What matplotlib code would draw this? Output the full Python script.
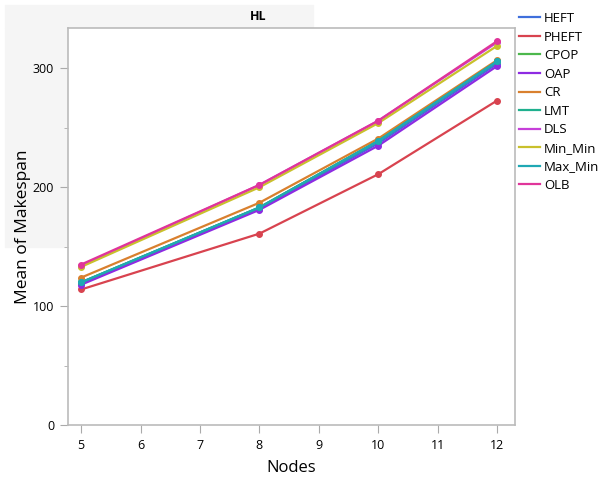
import matplotlib.pyplot as plt
from matplotlib.patches import Rectangle
from matplotlib.ticker import MultipleLocator

plt.rcParams['font.family'] = ['Open Sans', 'DejaVu Sans']

# mean makespan per heuristic, by number of nodes
nodes = [5, 8, 10, 12]
heft = [119, 182, 237, 304]
pheft = [114, 161, 211, 273]
cpop = [120, 183, 239, 306]
oap = [118, 181, 235, 302]
cr = [124, 187, 241, 307]
lmt = [120, 183, 239, 306]
dls = [134, 202, 256, 322]
min_min = [133, 200, 254, 319]
max_min = [120, 183, 239, 306]
olb = [135, 202, 256, 323]

series = [
    ('HEFT', heft, '#3f6fdc'),
    ('PHEFT', pheft, '#d8434f'),
    ('CPOP', cpop, '#4cb84c'),
    ('OAP', oap, '#8e2be2'),
    ('CR', cr, '#d9802e'),
    ('LMT', lmt, '#1fb08e'),
    ('DLS', dls, '#c63fd9'),
    ('Min_Min', min_min, '#c9c02c'),
    ('Max_Min', max_min, '#1fa8b4'),
    ('OLB', olb, '#e0359a'),
]

W, H = 598, 478
fig = plt.figure(figsize=(W / 100, H / 100), dpi=100)

# light header band and left strip behind the panel
band = '#f5f5f5'
fig.patches.append(Rectangle((5 / W, 1 - 28 / H), 308 / W, 23 / H,
                             transform=fig.transFigure, color=band, zorder=-5))
fig.patches.append(Rectangle((5 / W, 1 - 247 / H), 63 / W, 219 / H,
                             transform=fig.transFigure, color=band, zorder=-5))
fig.text(258 / W, 1 - 17 / H, 'HL', ha='center', va='center',
         fontsize=9, fontweight='bold')

ax = fig.add_axes([68 / W, 1 - 425 / H, 447 / W, 397 / H])
for name, vals, col in series:
    ax.plot(nodes, vals, color=col, lw=1.6, label=name)
    ax.plot(nodes, vals, color=col, lw=0, marker='o', ms=4)

ax.set_xlim(4.78, 12.3)
ax.set_ylim(0, 334)
ax.set_xticks(range(5, 13))
ax.yaxis.set_major_locator(MultipleLocator(100))
ax.yaxis.set_minor_locator(MultipleLocator(50))
ax.tick_params(which='both', direction='out', color='#aaaaaa',
               labelsize=9, pad=4)
ax.tick_params(which='major', length=6)
ax.tick_params(which='minor', length=3)
for sp in ax.spines.values():
    sp.set_color('#bbbbbb')
    sp.set_linewidth(1.2)

ax.set_xlabel('Nodes', fontsize=12, labelpad=6)
ax.set_ylabel('Mean of Makespan', fontsize=12.5)
ax.yaxis.set_label_coords(-(68 - 31) / 447, 0.5)

ax.legend(loc='upper left', bbox_to_anchor=(519 / W, 1 - 12 / H),
          bbox_transform=fig.transFigure, frameon=False, fontsize=9.5,
          handlelength=1.6, handletextpad=0.3, labelspacing=0.42,
          borderaxespad=0, borderpad=0)

fig.savefig('out.png', dpi=100, facecolor='white')
